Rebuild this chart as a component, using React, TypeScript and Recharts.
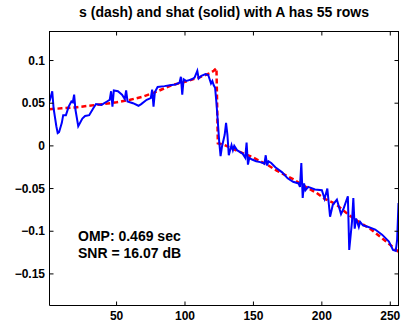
import React from "react";
import { LineChart, Line, XAxis, YAxis } from "recharts";

// s: the true signal (dashed red)
const sIndex = [1, 10, 20, 30, 40, 50, 60, 70, 80, 90, 100, 110, 118, 121, 123, 124, 129, 137, 149, 155, 161, 167, 173, 179, 186, 196, 202, 210, 219, 225, 236, 247, 256];
const sValue = [0.043, 0.044, 0.045, 0.047, 0.049, 0.051, 0.054, 0.058, 0.064, 0.071, 0.075, 0.08, 0.085, 0.088, 0.091, 0.003, 0.001, -0.005, -0.013, -0.018, -0.023, -0.029, -0.034, -0.039, -0.046, -0.055, -0.062, -0.068, -0.08, -0.087, -0.098, -0.112, -0.124];

// shat: the OMP reconstruction (solid blue)
const shatIndex = [
  1, 3, 4, 6, 7, 8, 10, 11, 13, 15, 17, 18, 19, 20, 22, 25, 27, 30, 33, 35,
  39, 43, 45, 46, 47, 48, 51, 54, 56, 57, 58, 62, 66, 68, 72, 75, 76, 77, 78, 80,
  85, 89, 93, 96, 97, 98, 99, 101, 103, 105, 107, 109, 110, 112, 115, 117, 118, 119, 120, 121,
  122, 123, 124, 125, 126, 127, 129, 130, 131, 132, 134, 135, 136, 138, 140, 142, 144, 145, 146, 147,
  149, 152, 155, 157, 158, 159, 160, 161, 163, 166, 171, 175, 179, 183, 184, 185, 186, 187, 188, 190,
  195, 200, 202, 204, 206, 208, 211, 214, 216, 219, 220, 222, 223, 224, 225, 227, 228, 230, 234, 239,
  244, 249, 252, 254, 255, 256,
];
const shatValue = [
  0.052, 0.064, 0.044, 0.023, 0.015, 0.016, 0.027, 0.036, 0.036, 0.046, 0.052, 0.051, 0.06, 0.042, 0.023, 0.032, 0.035, 0.036, 0.044, 0.049,
  0.048, 0.052, 0.054, 0.064, 0.046, 0.065, 0.064, 0.06, 0.055, 0.065, 0.052, 0.05, 0.047, 0.049, 0.054, 0.056, 0.066, 0.046, 0.063, 0.069,
  0.07, 0.071, 0.072, 0.074, 0.081, 0.06, 0.078, 0.076, 0.077, 0.078, 0.08, 0.088, 0.079, 0.082, 0.084, 0.083, 0.078, 0.073, 0.076, 0.071,
  0.068, 0.05, 0.028, 0.005, -0.012, -0.001, 0.013, 0.027, 0.013, -0.011, 0.001, -0.005, 0.0, -0.005, -0.007, -0.009, -0.014, 0.004, -0.022, -0.014,
  -0.016, -0.018, -0.019, -0.02, -0.021, -0.011, -0.023, -0.018, -0.02, -0.025, -0.031, -0.038, -0.042, -0.044, -0.048, -0.02, -0.061, -0.044, -0.052, -0.048,
  -0.051, -0.052, -0.062, -0.05, -0.083, -0.069, -0.063, -0.08, -0.073, -0.059, -0.122, -0.089, -0.061, -0.097, -0.085, -0.095, -0.089, -0.093, -0.095, -0.098,
  -0.104, -0.112, -0.122, -0.123, -0.11, -0.067,
];

const xTicks = [50, 100, 150, 200, 250];
const yTicks = [-0.15, -0.1, -0.05, 0, 0.05, 0.1];
const xDomain = [1, 256];
const yDomain = [-0.187, 0.134];

const titleText = "s (dash) and shat (solid) with A has 55 rows";
const notes = ["OMP: 0.469 sec", "SNR = 16.07 dB"];

const sData = sIndex.map((x, i) => ({ x, y: sValue[i] }));
const shatData = shatIndex.map((x, i) => ({ x, y: shatValue[i] }));

const W = 401;
const H = 325;
const M = { top: 31.5, right: 2.5, bottom: 19.5, left: 49.5 };
// plot box, for the top/right frame edges
const box = { x0: M.left, x1: W - M.right, y0: M.top, y1: H - M.bottom };
const px = (v: number) => box.x0 + ((v - xDomain[0]) / (xDomain[1] - xDomain[0])) * (box.x1 - box.x0);
const py = (v: number) => box.y0 + ((yDomain[1] - v) / (yDomain[1] - yDomain[0])) * (box.y1 - box.y0);

const FONT = "'Liberation Sans', Arial, Helvetica, sans-serif";
const tickStyle = { fontFamily: FONT, fontSize: 12, fontWeight: "bold", fill: "#000" };
const fmtY = (v: number) => String(v).replace("-", "\u2212");

export default function App() {
  return (
    <div style={{ position: "absolute", left: 0, top: 0, width: W, height: H, background: "#fff" }}>
      <LineChart
        width={W}
        height={H}
        margin={{ top: M.top, right: M.right, bottom: 0, left: 0 }}
      >
        <XAxis
          dataKey="x"
          type="number"
          domain={xDomain}
          ticks={xTicks}
          allowDataOverflow
          height={M.bottom}
          tickSize={-4}
          tickMargin={10}
          tick={tickStyle}
          stroke="#000"
        />
        <YAxis
          type="number"
          domain={yDomain}
          ticks={yTicks}
          allowDataOverflow
          width={M.left}
          tickSize={-4}
          tickMargin={8.5}
          tick={tickStyle}
          tickFormatter={fmtY}
          stroke="#000"
        />
        <Line
          data={sData}
          dataKey="y"
          type="linear"
          stroke="#ff0000"
          strokeWidth={2.5}
          strokeDasharray="5 3"
          dot={false}
          activeDot={false}
          isAnimationActive={false}
        />
        <Line
          data={shatData}
          dataKey="y"
          type="linear"
          stroke="#0000ff"
          strokeWidth={2}
          dot={false}
          activeDot={false}
          isAnimationActive={false}
        />
      </LineChart>
      {/* frame as a plain bordered box */}
      <div
        style={{
          position: "absolute",
          left: box.x0 - 0.5,
          top: box.y0 - 0.5,
          width: box.x1 - box.x0,
          height: box.y1 - box.y0,
          borderTop: "1px solid #000",
          borderRight: "1px solid #000",
          boxSizing: "content-box",
          pointerEvents: "none",
        }}
      />
      <svg
        width={W}
        height={H}
        style={{ position: "absolute", left: 0, top: 0, pointerEvents: "none" }}
      >
        {xTicks.map((t) => (
          <line key={`tx${t}`} x1={px(t)} y1={box.y0} x2={px(t)} y2={box.y0 + 4} stroke="#000" strokeWidth={1} />
        ))}
        {yTicks.map((t) => (
          <line key={`ty${t}`} x1={box.x1} y1={py(t)} x2={box.x1 - 4} y2={py(t)} stroke="#000" strokeWidth={1} />
        ))}
        <text x={224} y={17} textAnchor="middle" fontFamily={FONT} fontSize={14} fontWeight="bold" fill="#000">
          {titleText}
        </text>
        {notes.map((t, i) => (
          <text key={t} x={78} y={241 + i * 16.7} fontFamily={FONT} fontSize={14} fontWeight="bold" fill="#000">
            {t}
          </text>
        ))}
      </svg>
    </div>
  );
}
